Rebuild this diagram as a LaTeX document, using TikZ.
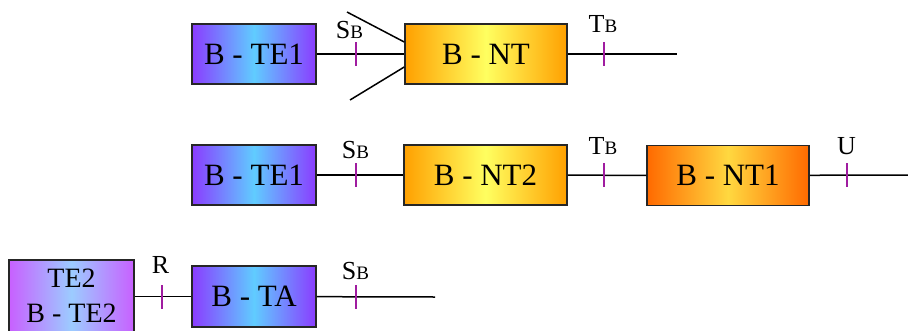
\documentclass[tikz,border=0pt]{standalone}
\usepackage{fontspec}
\setmainfont{Liberation Serif}
\definecolor{vio}{HTML}{8A3CFF}
\definecolor{sky}{HTML}{60CCFF}
\definecolor{org}{HTML}{FFA000}
\definecolor{ylw}{HTML}{FFFF60}
\definecolor{dorg}{HTML}{FF6A00}
\definecolor{gold}{HTML}{FFD840}
\definecolor{lvio}{HTML}{C860FF}
\definecolor{lsky}{HTML}{9CCCFF}
\definecolor{tickc}{HTML}{A01CA0}
\begin{document}
\begin{tikzpicture}[x=1pt,y=-1pt,
  blk/.style={draw=black!85, line width=1.5pt, minimum width=124pt, minimum height=60pt,
    inner sep=0pt, font=\fontsize{31}{35}\selectfont},
  teblk/.style={blk, left color=vio, right color=vio, middle color=sky},
  ntblk/.style={blk, minimum width=162pt, left color=org, right color=org, middle color=ylw},
  nt1blk/.style={blk, minimum width=162pt, left color=dorg, right color=dorg, middle color=gold},
  te2blk/.style={blk, minimum width=125pt, minimum height=72pt, align=center,
    font=\fontsize{28}{35}\selectfont, left color=lvio, right color=lvio, middle color=lsky},
  wire/.style={line width=1.5pt, black},
  tickmark/.style={line width=2pt, tickc},
  lbl/.style={anchor=base, inner sep=0pt, font=\fontsize{26}{26}\selectfont}
]
\useasboundingbox (0,0) rectangle (908,330);
\newcommand{\smallcap}[1]{{\fontsize{19}{19}\selectfont #1}}

% Row 1
\node[teblk] (te1a) at (254,54) {B - TE1};
\node[ntblk] (nta) at (486,54) {B - NT};
\coordinate (enda) at (677,54);
\coordinate (diagu) at (347,12);
\coordinate (diagd) at (350,100);
\draw[wire] (te1a) -- (nta);
\draw[wire] (nta) -- (enda);
\draw[wire] (diagu) -- ([yshift=12pt]nta.west);
\draw[wire] (diagd) -- ([yshift=-13pt]nta.west);
\node[lbl] (sba) at (349.5,38) {S\smallcap{B}};
\node[lbl] (tba) at (603,32) {T\smallcap{B}};

% Row 2
\node[teblk] (te1b) at (254,175) {B - TE1};
\node[ntblk, minimum width=163pt] (nt2) at (485.5,175) {B - NT2};
\node[nt1blk] (nt1) at (728,175.5) {B - NT1};
\coordinate (endb) at (908,175);
\draw[wire] (te1b) -- (nt2);
\draw[wire] (nt2) -- (nt1);
\draw[wire] (nt1) -- (endb);
\node[lbl] (sbb) at (355.5,158) {S\smallcap{B}};
\node[lbl] (tbb) at (603,154) {T\smallcap{B}};
\node[lbl] (ub) at (846.5,154) {U};

% Row 3
\node[te2blk] (te2) at (71.5,296) {TE2\\B - TE2};
\node[teblk, minimum height=61pt] (ta) at (254,296.5) {B - TA};
\coordinate (endc) at (435,297);
\draw[wire] (te2.east |- ta.west) -- (ta.west);
\draw[wire] (ta) -- (endc);
\node[lbl] (rc) at (160.5,273) {R};
\node[lbl] (sbc) at (355.5,279) {S\smallcap{B}};

% ticks (drawn last, on top of the wires)
\foreach \tx/\ty in {356/54, 604/54, 356/175, 604/175, 847/175, 162/297, 356/297}
  \draw[tickmark] (\tx,\ty-12) -- (\tx,\ty+12);
\end{tikzpicture}
\end{document}
